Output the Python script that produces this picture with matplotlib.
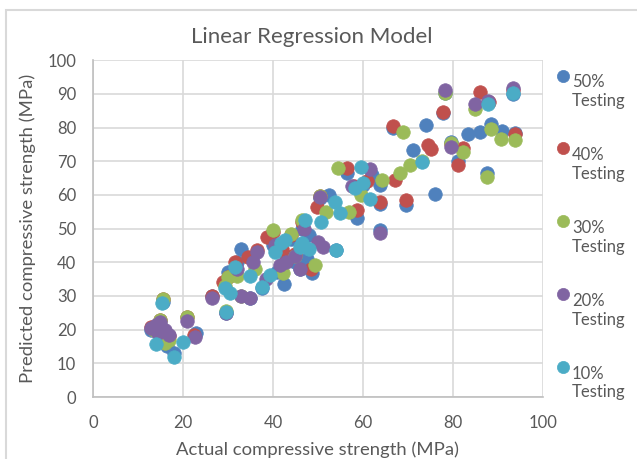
import matplotlib
matplotlib.use("Agg")
import matplotlib.pyplot as plt
from matplotlib.patches import Rectangle

# (actual, predicted) pairs
pts_50 = [(13, 20), (15, 21.5), (16.5, 15), (18, 13), (23, 19), (15.5, 28.3),
          (26.4, 30), (29.5, 25), (32, 40), (35, 29.5), (37.5, 32.5), (42.5, 33.5),
          (46, 38), (48.6, 36.7), (40, 45), (44, 47), (45, 40), (47.5, 41),
          (43, 42), (41, 37), (52.5, 60), (54.1, 43.5), (56.4, 66.5), (58.6, 53),
          (63.8, 57.4), (63.8, 49.5), (63.8, 63), (66.7, 80), (69.6, 57), (71.2, 73.3),
          (74.1, 80.7), (76, 60.4), (77.9, 84.3), (78.2, 90.2), (79.7, 75.8), (81.2, 70),
          (83.4, 78.2), (86, 78.7), (88.6, 81), (87.5, 66.6), (91, 79), (93.8, 78.5),
          (93.4, 90), (50.4, 59), (46.5, 50), (30, 37), (33, 44), (48, 48),
          (60, 63), (62, 66)]
pts_40 = [(13, 20.8), (15, 22.8), (15.5, 29), (17, 18), (20.8, 23.8), (22.5, 18.5),
          (29, 34), (30, 35.5), (31.6, 40), (34.5, 41.5), (36.4, 43.5), (38.6, 47.5),
          (40, 49), (43, 40.5), (44, 48), (46.5, 52), (45, 42.5), (42, 44),
          (49.7, 56.5), (50.4, 59.8), (56.4, 68), (58.6, 55.5), (58, 62.5), (61, 64),
          (63.8, 58), (67.1, 64.4), (66.7, 80.5), (69.6, 58.5), (74.5, 74.8), (75.2, 73.5),
          (77.9, 84.7), (81.2, 68.8), (82.3, 74), (86, 90.6), (88, 87.5), (93.8, 78),
          (93.4, 91.2), (79.7, 75), (26.4, 30), (48.5, 38)]
pts_30 = [(15.5, 29.2), (15, 23), (16, 16), (17, 17), (20.8, 23.8), (13.5, 20),
          (29.3, 33), (30, 35.5), (29.5, 25.5), (33, 30), (40, 49.5), (42.3, 36.7),
          (44, 48.3), (46.5, 52.5), (49.3, 39.2), (51.9, 55), (50.4, 59.8), (54.5, 67.9),
          (57, 55), (59.5, 60), (64.2, 64.4), (68.2, 66.4), (69, 78.7), (70.4, 68.8),
          (73.2, 70), (78.2, 90.3), (79.7, 75.5), (82.3, 72.8), (84.9, 85.6), (88.6, 79.7),
          (87.5, 65.4), (90.8, 76.7), (93.8, 76.3), (36, 38), (45, 42), (32, 36)]
pts_20 = [(13, 20.5), (14, 21.5), (15, 22.3), (16, 20), (14.5, 19), (17, 18.5),
          (20.8, 22.5), (22.7, 17.8), (26.4, 29.5), (29.5, 25), (32, 38), (33, 30),
          (35, 29.3), (35.5, 40), (36.4, 43.1), (38.5, 35), (41.6, 39.2), (43, 40),
          (45, 42), (46, 38), (50, 46), (51.2, 44.6), (50.4, 59.4), (57.5, 62.5),
          (61.6, 67.8), (63.8, 48.8), (78.2, 91.1), (79.7, 74.3), (84.9, 87.1), (87.8, 88),
          (93.4, 91.6), (47, 50), (40.5, 45)]
pts_10 = [(15.3, 28), (14, 15.7), (18, 12), (20, 16.3), (29.5, 25.3), (29.3, 32.3),
          (31.6, 38.7), (37.5, 32.7), (39.3, 36.2), (41.9, 45.6), (40.5, 43), (46.4, 45.6),
          (47.1, 52.5), (46, 44.6), (48, 44), (42.7, 46.6), (50.8, 52), (53.8, 58),
          (54.9, 54.5), (54.1, 43.6), (58.2, 61.9), (60.1, 63.4), (59.7, 68.4), (61.6, 58.9),
          (73.2, 69.8), (87.8, 87.1), (93.4, 90.2), (30.5, 31), (35, 36)]

series = [pts_50, pts_40, pts_30, pts_20, pts_10]
labels = ["50%\nTesting", "40%\nTesting", "30%\nTesting", "20%\nTesting", "10%\nTesting"]
colors = ["#4F81BD", "#C0504D", "#9BBB59", "#8064A2", "#4BACC6"]

plt.rcParams['font.family'] = ['Lato', 'DejaVu Sans']
txt = "#595959"

fig = plt.figure(figsize=(6.37, 4.59), dpi=100)
ax = fig.add_axes([0.146, 0.135, 0.706, 0.734])

for pts, lab, c in zip(series, labels, colors):
    xs = [p[0] for p in pts]
    ys = [p[1] for p in pts]
    ax.scatter(xs, ys, s=95, color=c, edgecolors=c, linewidths=0.5, label=lab, zorder=3)

ax.set_xlim(0, 100)
ax.set_ylim(0, 100)
ax.set_xticks(range(0, 101, 20))
ax.set_yticks(range(0, 101, 10))
ax.grid(True, color="#d9d9d9", linewidth=1.2)
ax.set_axisbelow(True)
for side in ["top", "right"]:
    ax.spines[side].set_visible(False)
for side in ["left", "bottom"]:
    ax.spines[side].set_color("#bfbfbf")
    ax.spines[side].set_linewidth(1.2)
ax.tick_params(length=0, labelsize=12, labelcolor=txt)
ax.tick_params(axis='x', pad=13)
ax.tick_params(axis='y', pad=12)

ax.set_xlabel("Actual compressive strength (MPa)", fontsize=13.3, color=txt, va="center")
ax.set_ylabel("Predicted compressive strength (MPa)", fontsize=13.3, color=txt, va="center")
ax.xaxis.set_label_coords(0.5, -0.157)
ax.yaxis.set_label_coords(-0.145, 0.5)
fig.text(0.49, 0.919, "Linear Regression Model", fontsize=16, color=txt,
         ha="center", va="center")

leg = ax.legend(loc="upper left", bbox_to_anchor=(1.0, 0.993), frameon=False,
                fontsize=12, labelspacing=2.3, handletextpad=0.05, handlelength=1.0,
                handleheight=1.8, scatteryoffsets=[0.95],
                markerscale=0.9, borderaxespad=0.3)
for t in leg.get_texts():
    t.set_color(txt)

fig.patches.append(Rectangle((5.5 / 637, -0.1), 1.2, 1.1 - 10.5 / 459,
                             transform=fig.transFigure, fill=False,
                             edgecolor="#d9d9d9", linewidth=1.5))

fig.savefig("out.png", dpi=100)
